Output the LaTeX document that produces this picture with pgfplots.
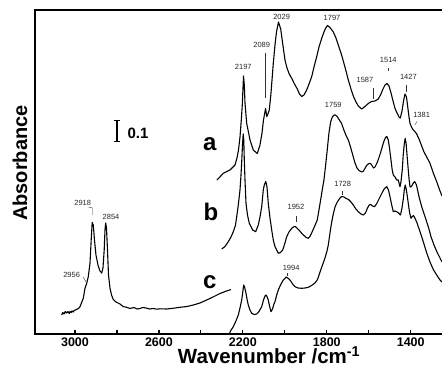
\documentclass[border=0pt]{standalone}
\usepackage{fontspec}
\setmainfont{Liberation Sans}
\usepackage{pgfplots}
\pgfplotsset{compat=1.18}
\begin{document}
\begin{tikzpicture}
\begin{axis}[
  at={(0,0)}, anchor=south west,
  scale only axis, width=407pt, height=324pt,
  x dir=reverse,
  xmin=1250.9, xmax=3190.6, ymin=0, ymax=324,
  axis line style={draw=none},
  xtick={3000,2600,2200,1800,1400},
  minor xtick={2800,2400,2000,1600},
  xtick pos=left, ytick=\empty,
  tick align=inside,
  major tick length=4pt, minor tick length=4pt,
  every tick/.style={black, line width=1.2pt},
  every minor tick/.style={black, line width=1.2pt},
  /pgf/number format/assume math mode=true,
  /pgf/number format/1000 sep={},
  ticklabel style={font=\bfseries\fontsize{12.5}{12.5}\selectfont},
  clip=false,
  spec/.style={black, line width=1.1pt, mark=none, line join=round},
]
% CH region segment
\addplot[spec] coordinates {
(3063.4,19)(3058,21.5)(3052.4,20)(3046,22.5)(3039.6,21)(3033.4,22.5)(3027,20.5)(3023.8,22.5)(3018,21.5)(3014.3,23)(3008,22)(3004.8,23.5)
(2998,24)(2991.9,24.7)(2983.3,25.5)(2976.2,27.3)(2969,31)(2960.4,35.7)(2952.3,45.7)(2944.2,50.7)(2936.6,57.3)(2928.5,70.7)
(2922.8,94)(2918,111.5)(2912.8,109)(2907.1,94)(2900,79)(2890.4,69)(2880.9,63)(2872.7,61)(2866.6,66)(2860.8,84)(2857,104)
(2853.7,111)(2849.9,106)(2845.1,84)(2840.3,59)(2833.2,46)(2826,39)(2817.5,34.5)(2804.6,32)(2785.5,30)(2771.2,27.5)
(2753.6,26.7)(2737.9,25.5)(2718.8,26.5)(2704,25)(2690.2,25.5)(2676,26.5)(2661.6,26)(2645,25)(2626.8,25.5)(2610,24.8)(2594.9,25.2)
(2562.9,25)(2532.9,25.7)(2499.6,26.7)(2466.2,27.5)(2436.2,29)(2404.3,31)(2372.3,34)(2342.3,37)(2308.9,40.5)(2280.3,42.8)(2256.5,44.5)
};
% curve a
\addplot[spec] coordinates {
(2323.2,154)(2293.2,160.7)(2261.3,164)(2237.4,169)(2227.9,176)(2220.8,184)(2213.6,197)(2207.4,214)(2202.7,229)(2199.3,246)
(2196.9,258)(2193.1,249)(2189.8,231)(2181.7,210.7)(2165.9,194)(2150.2,184)(2131.1,180.5)(2118.3,189)(2108.8,201)(2101.6,214)
(2091.7,225.5)(2085.9,217.5)(2080.2,220)(2074,224)(2065.9,240.7)(2054.9,270.7)(2046.8,289)(2039.7,302)(2030.1,312)(2019.6,305)
(2007.2,286)(1999.2,274)(1991.1,267)(1980.1,260.5)(1967.2,255.7)(1953.9,250)(1940.5,245)(1930,240)(1919.5,237.5)(1908.6,239)
(1895.7,244)(1884.8,250)(1871.9,257.3)(1860.9,267)(1848.1,277.3)(1837.1,287)(1824.2,295.7)(1813.3,302)(1805,306)(1796.6,308.5)
(1784.7,306.5)(1768.9,302)(1756.1,296)(1745.1,289)(1732.3,281)(1721.3,273)(1708.4,263)(1697.4,254)(1684.6,245)(1673.6,238)
(1660.8,232)(1649.8,228)(1633.6,225)(1617.9,227.5)(1602.1,230.5)(1586.9,232.5)(1570.2,233)(1554.5,235)(1544,239)(1532.1,245)
(1522.5,249)(1513,250.5)(1503.5,248)(1493.9,241)(1484.4,233)(1474.9,225.7)(1465.3,221)(1455.8,217)(1449.6,216)(1441.5,223)
(1434.3,233)(1427.2,240)(1420.1,237)(1414.3,227.3)(1408.2,217)(1403.4,210.7)(1395.3,206.5)(1387.7,204)(1380.5,202.5)(1371.5,200)
(1360.5,195)(1347.6,188)(1336.7,182)(1323.8,177)(1308.1,170.7)(1292.4,161)(1276.1,152.3)(1260.4,143)(1250.9,138)
};
% curve b
\addplot[spec] coordinates {
(2300.8,85)(2285.1,87.5)(2269.4,92.3)(2256.5,97)(2245.5,102.3)(2235,109)(2229.3,117.3)(2221.7,129)(2213.6,144)(2208.8,159)
(2205,174)(2201.7,189)(2198.3,200)(2195.5,194)(2193.1,174)(2189.8,154)(2185,130.7)(2177.9,119)(2169.3,110.7)(2153.1,104)
(2138.8,102.3)(2126.4,109)(2118.3,117)(2110.2,127.3)(2102.6,144)(2097.8,149)(2090.7,152.5)(2085,147)(2078.8,130.7)(2070.6,116)
(2062.5,104)(2054.9,94)(2046.8,87.3)(2031.1,80.7)(2020.6,81.5)(2010.1,84)(1999.2,91)(1991.1,97.3)(1980.1,102)(1967.2,105.7)
(1956.3,107.3)(1951.5,107.7)(1942.2,106)(1932.6,104)(1920.7,101)(1908.8,98.5)(1897.8,96.5)(1888.3,95.7)(1878.8,98)(1869.3,102.3)
(1857.4,108)(1845.4,114)(1837.3,124)(1829.3,134)(1821.6,144)(1813.5,154)(1805.4,169)(1797.8,184)(1789.7,201)(1781.6,212)
(1773.6,217)(1765.4,219)(1759.4,219)(1750.5,217.5)(1740.1,214)(1729.6,210.7)(1718.6,204)(1709.1,199)(1697.4,194)(1686.9,187)
(1673.6,177)(1665.5,171)(1656,166)(1646.4,163.5)(1633.6,162)(1625,163)(1617.9,165.7)(1608.3,169)(1598.8,170.5)(1591.6,170.5)
(1584.5,168.5)(1577.3,166)(1570.2,167)(1560.7,171)(1553.5,175)(1544,181)(1534.5,188)(1527.3,193)(1520.2,196.5)(1514,197.5)
(1506.8,194)(1501.1,186)(1494,174)(1488.2,164)(1483,159)(1474.9,157)(1466.8,154)(1459.2,154)(1451.3,147.3)(1446.5,152)
(1440.3,164)(1435.6,179)(1430.8,190)(1426.3,195.7)(1421.7,190)(1416.9,177.3)(1411.7,164)(1407.4,154)(1403.4,147.3)(1398.7,147)
(1392.5,149)(1385.8,151.5)(1380.5,152.3)(1374.8,150)(1371.5,148)(1365.3,142)(1360.5,137.3)(1347.6,127.3)(1331.9,117.3)
(1316.2,107.3)(1303.3,97.3)(1289.1,89)(1274.8,82)(1260.4,76)(1250.9,72)
};
% curve c
\addplot[spec] coordinates {
(2263.7,0)(2258.9,3)(2245.5,7.3)(2235,12)(2221.7,19)(2213.6,26)(2205.5,34)(2200.3,42)(2196,49)(2191.7,47)(2185,40.7)
(2179.3,34)(2174.1,29)(2166,24)(2157.9,20.7)(2147,19.5)(2134.1,20)(2123.1,22.5)(2110.2,27.3)(2101.6,34)(2094.5,38)(2089.7,39)
(2084,37)(2078.8,34)(2073,28)(2065.9,22.3)(2058.7,25)(2051.6,30)(2046.8,32.3)(2038.7,39)(2031.1,44)(2020.6,49)(2007.3,54)
(1997.7,56)(1993.4,57)(1982.5,55.5)(1972.1,53)(1961,49.5)(1951.5,47.3)(1937.2,46)(1919.5,45.7)(1903.8,46)(1888.1,46.7)
(1872.8,48.5)(1856.2,51)(1844.2,54.5)(1832.3,62)(1820.4,69)(1808.5,76)(1798.9,83)(1792.8,89)(1784.7,101)(1776.6,112)
(1768.9,120)(1760.8,127)(1751.3,131.5)(1741.8,134.5)(1734.7,136.5)(1727.9,137.5)(1717.9,137)(1708.4,135.5)(1697.4,134.7)
(1684.6,132)(1673.6,129)(1663.1,125.5)(1649.8,122.3)(1636.9,120)(1626,119)(1615.5,121)(1606,126)(1597.9,129)(1590.7,129.5)
(1582.1,128)(1572.6,127.3)(1563.1,130)(1553.5,134)(1544,138)(1534.5,142)(1525,145.5)(1514,147.3)(1505.9,144)(1498.7,137.3)
(1490.6,129)(1483,122.3)(1474.9,123)(1466.8,122.3)(1458.2,121)(1448.7,119)(1441.5,126)(1435.3,135)(1430.6,144)(1426.3,149)
(1421.5,145)(1416.3,138)(1410.6,129)(1405.8,122)(1398.7,115.7)(1392.5,117.5)(1386.8,118.5)(1379.6,115.7)(1371.5,112)
(1363.9,107.3)(1355.8,102.5)(1347.6,97.3)(1336.7,90)(1323.8,81)(1308.1,72)(1292.4,64.5)(1276.1,59)(1260.4,54)(1250.9,52)
};
% scale bar 0.1 (vertical bar with caps)
\addplot[black, line width=1.5pt, mark=none, forget plot] coordinates {(2800,192.3) (2800,213.3)};
\addplot[black, line width=1.5pt, mark=none, forget plot] coordinates {(2816,192.3) (2784,192.3)};
\addplot[black, line width=1.5pt, mark=none, forget plot] coordinates {(2816,213.3) (2784,213.3)};
\node[font=\bfseries\fontsize{15}{15}\selectfont] at (axis cs:2700,201) {0.1};
% series letters
\node[font=\bfseries\fontsize{24}{24}\selectfont] at (axis cs:2357,190) {a};
\node[font=\bfseries\fontsize{24}{24}\selectfont] at (axis cs:2352,122.3) {b};
\node[font=\bfseries\fontsize{24}{24}\selectfont] at (axis cs:2357,52.3) {c};
% peak labels
\begin{scope}[every node/.style={font=\fontsize{7.5}{7.5}\selectfont, text=black!85, inner sep=0pt}]
\node at (axis cs:2198,266.7) {2197};
\node at (axis cs:2110,289) {2089};
\node at (axis cs:2015,317.3) {2029};
\node at (axis cs:1775,316) {1797};
\node at (axis cs:1618,254) {1587};
\node at (axis cs:1507,274) {1514};
\node at (axis cs:1411,257.3) {1427};
\node at (axis cs:1348,219) {1381};
\node at (axis cs:1769,229) {1759};
\node at (axis cs:1724,150) {1728};
\node at (axis cs:1947,126.7) {1952};
\node at (axis cs:1970,66) {1994};
\node at (axis cs:2963,131.3) {2918};
\node at (axis cs:2828,117.3) {2854};
\node at (axis cs:3016,59) {2956};
\end{scope}
\begin{scope}[line width=0.4pt, black!80]
\draw (axis cs:2094.5,281) -- (axis cs:2094.5,236);
\draw (axis cs:1580,246) -- (axis cs:1580,235);
\draw (axis cs:1508,266) -- (axis cs:1508,263);
\draw (axis cs:1422.5,249) -- (axis cs:1422.5,242);
\draw (axis cs:1371.5,212.3) -- (axis cs:1379.6,209);
\draw (axis cs:1727.5,143) -- (axis cs:1727.5,139);
\draw (axis cs:1946.7,118) -- (axis cs:1946.7,112);
\draw (axis cs:1988,61) -- (axis cs:1988,58);
\draw (axis cs:2935.7,127) -- (axis cs:2916.6,126) -- (axis cs:2916.6,119);
\draw (axis cs:2960.4,57) -- (axis cs:2947.6,52);
\end{scope}
% axis labels
\node[anchor=base, font=\bfseries\fontsize{20.5}{20.5}\selectfont] at (axis cs:2075,-30) {Wavenumber /cm\textsuperscript{-1}};
\node[rotate=90, font=\bfseries\fontsize{20}{20}\selectfont] at (axis cs:3262,171) {Absorbance};
\end{axis}
\draw[line width=1.6pt] (current axis.south east) -- (current axis.south west) -- (current axis.north west) -- (current axis.north east);
\pgfresetboundingbox
\path[use as bounding box] ([shift={(-35pt,-35pt)}]current axis.south west) rectangle ([shift={(0pt,10pt)}]current axis.north east);
\end{tikzpicture}
\end{document}
